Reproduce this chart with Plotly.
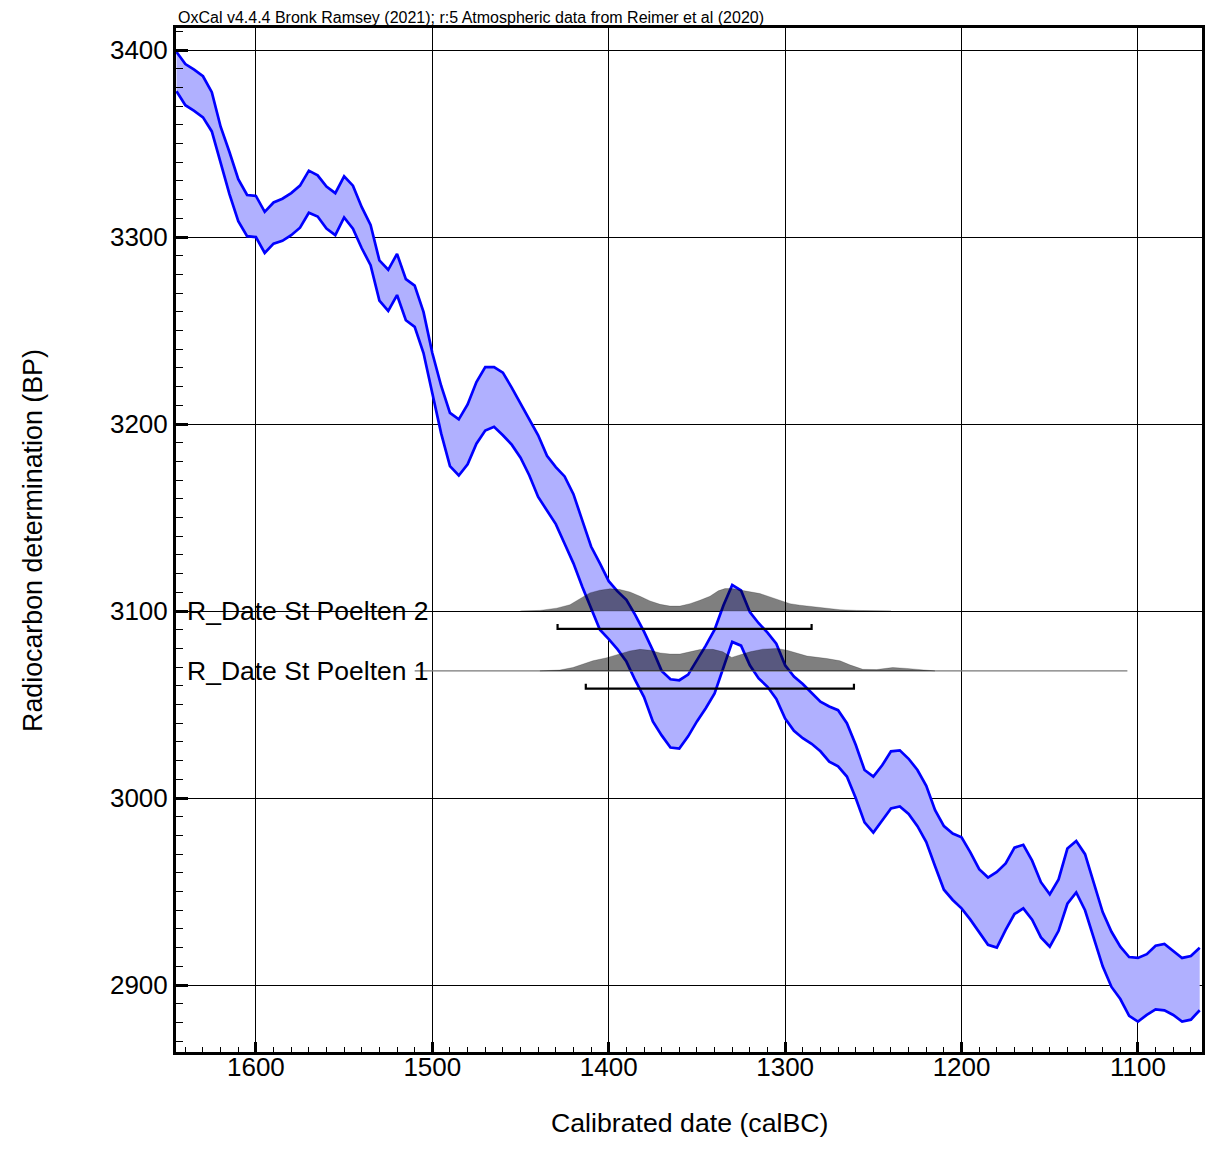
import plotly.graph_objects as go

# Calibration curve (IntCal20, 1-sigma band)
years = [1645, 1640, 1635, 1630, 1625, 1620, 1615, 1610, 1605, 1600,
         1595, 1590, 1585, 1580, 1575, 1570, 1565, 1560, 1555, 1550,
         1545, 1540, 1535, 1530, 1525, 1520, 1515, 1510, 1505, 1500,
         1495, 1490, 1485, 1480, 1475, 1470, 1465, 1460, 1455, 1450,
         1445, 1440, 1435, 1430, 1425, 1420, 1415, 1410, 1405, 1400,
         1395, 1390, 1385, 1380, 1375, 1370, 1365, 1360, 1355, 1350,
         1345, 1340, 1335, 1330, 1325, 1320, 1315, 1310, 1305, 1300,
         1295, 1290, 1285, 1280, 1275, 1270, 1265, 1260, 1255, 1250,
         1245, 1240, 1235, 1230, 1225, 1220, 1215, 1210, 1205, 1200,
         1195, 1190, 1185, 1180, 1175, 1170, 1165, 1160, 1155, 1150,
         1145, 1140, 1135, 1130, 1125, 1120, 1115, 1110, 1105, 1100,
         1095, 1090, 1085, 1080, 1075, 1070, 1065]

upper = [3399, 3392.5, 3389.5, 3386, 3377.5, 3359, 3345.5, 3331, 3322.5, 3322,
         3313.5, 3318.5, 3320.5, 3323.5, 3327.5, 3335.5, 3333, 3327, 3323.5, 3332.5,
         3327.5, 3316, 3306.5, 3287.5, 3282.5, 3291, 3277.5, 3274, 3260, 3238,
         3220.5, 3206, 3202.5, 3210.5, 3222.5, 3230.5, 3230.5, 3227.5, 3219.5, 3211,
         3202, 3194, 3183, 3177, 3172, 3162.5, 3148.5, 3134.5, 3125.5, 3116,
         3110.5, 3106, 3098, 3089, 3079, 3068, 3063.5, 3063, 3066, 3073.5,
         3081.5, 3090, 3103, 3114, 3111, 3099.5, 3093.5, 3088.5, 3082.5, 3071,
         3065, 3061, 3056, 3051.5, 3049, 3047, 3040, 3028.5, 3015, 3011.5,
         3017.5, 3025, 3025.5, 3021, 3015, 3006.5, 2993.5, 2985, 2981, 2979,
         2971, 2962, 2957.5, 2960.5, 2965, 2973.5, 2975, 2966.5, 2955, 2948.5,
         2956.5, 2973, 2977, 2970, 2954.5, 2939, 2928.5, 2920.5, 2915, 2914.5,
         2916.5, 2921, 2922, 2918, 2914.5, 2915.5, 2920]

lower = [3378, 3370.5, 3367.5, 3364, 3356.5, 3339.5, 3323, 3308.5, 3300.5, 3300,
         3291.5, 3296.5, 3298, 3301, 3305, 3313, 3311, 3304.5, 3301, 3310.5,
         3304.5, 3294, 3285, 3266, 3260.5, 3269, 3255.5, 3252, 3238, 3216.5,
         3195, 3177.5, 3172.5, 3178.5, 3189.5, 3196.5, 3198.5, 3194, 3189, 3182,
         3172.5, 3161, 3153.5, 3146.5, 3136, 3125.5, 3113, 3101, 3090, 3085,
         3079.5, 3073, 3063, 3054, 3041, 3033.5, 3027, 3026.5, 3033, 3041,
         3048, 3056, 3070, 3083.5, 3081.5, 3071, 3064, 3059.5, 3053, 3042.5,
         3036, 3032, 3029, 3025, 3019.5, 3017, 3011.5, 3000, 2987, 2981.5,
         2988, 2994.5, 2995.5, 2991.5, 2985, 2976.5, 2963.5, 2951, 2945.5, 2941,
         2935, 2928, 2921.5, 2920, 2929.5, 2938, 2941, 2935, 2925.5, 2920.5,
         2929, 2943.5, 2949.5, 2940, 2925, 2910, 2899, 2892.5, 2883.5, 2880.5,
         2884, 2887, 2886.5, 2884, 2880.5, 2881.5, 2886.5]

# Calibrated distributions (relative probability)
d2_name = "R_Date St Poelten 2"
d2_bp = 3100
d2_x = [1450, 1439, 1429.5, 1422, 1416.3, 1410.7, 1405, 1399.3, 1393.7, 1388,
        1382.3, 1376.6, 1370.9, 1365.3, 1359.6, 1353.9, 1348.3, 1342.6, 1337.9, 1334.1,
        1330.3, 1325.6, 1319.9, 1314.3, 1308.6, 1302.9, 1297.3, 1291.6, 1285.9, 1280.2,
        1274.6, 1268.9, 1259.5, 1250, 1240]
d2_p = [0, 0.03, 0.13, 0.28, 0.55, 0.81, 0.93, 0.99, 0.96, 0.85,
        0.66, 0.45, 0.30, 0.22, 0.22, 0.33, 0.48, 0.66, 0.90, 1.00,
        1.00, 0.93, 0.85, 0.78, 0.63, 0.48, 0.33, 0.26, 0.21, 0.15,
        0.10, 0.06, 0.03, 0.01, 0]
d2_range = [1429, 1285]
d2_base = None   # coincides with the 3100 grid line

d1_name = "R_Date St Poelten 1"
d1_bp = 3068
d1_x = [1439, 1427.7, 1420.3, 1414.6, 1409, 1401, 1393.7, 1388, 1382.3, 1376.6,
        1370.9, 1365.3, 1359.6, 1353.9, 1348.3, 1340.9, 1335.3, 1330.3, 1325.6, 1319.9,
        1312.6, 1304.6, 1299, 1295.6, 1287.6, 1276.3, 1268.9, 1263.4, 1256, 1248.1,
        1239, 1231.1, 1222.1, 1215.1]
d1_p = [0, 0.04, 0.15, 0.30, 0.45, 0.59, 0.77, 0.89, 0.96, 0.92,
        0.80, 0.75, 0.75, 0.85, 0.95, 0.96, 0.85, 0.60, 0.70, 0.85,
        0.97, 1.00, 0.92, 0.85, 0.66, 0.55, 0.45, 0.27, 0.07, 0.06,
        0.15, 0.11, 0.03, 0]
d1_range = [1413, 1261]
d1_base = [1510, 1106]

title_text = "OxCal v4.4.4 Bronk Ramsey (2021); r:5 Atmospheric data from Reimer et al (2020)"
x_title = "Calibrated date (calBC)"
y_title = "Radiocarbon determination (BP)"

FONT = "Arial, 'Liberation Sans', sans-serif"
PEAK_BP = 12.0     # drawn height of a distribution peak (BP units)
BAR_OFF = 9.5      # range bar offset below baseline (BP units)
TICK_BP = 2.6

fig = go.Figure()

# band fill
fig.add_trace(go.Scatter(
    x=years + years[::-1], y=upper + lower[::-1],
    fill="toself", fillcolor="rgb(176,176,255)",
    line=dict(width=0), mode="lines", hoverinfo="skip", showlegend=False))
for series in (upper, lower):
    fig.add_trace(go.Scatter(x=years, y=series, mode="lines",
                             line=dict(color="rgb(0,0,255)", width=2.7),
                             showlegend=False))

for name, bp, dx, dp, rng, base in ((d2_name, d2_bp, d2_x, d2_p, d2_range, d2_base),
                                   (d1_name, d1_bp, d1_x, d1_p, d1_range, d1_base)):
    if base is not None:
        fig.add_trace(go.Scatter(x=base, y=[bp, bp], mode="lines",
                                 line=dict(color="rgb(120,120,120)", width=1.3),
                                 showlegend=False))
    top = [bp + p * PEAK_BP for p in dp]
    fig.add_trace(go.Scatter(
        x=dx + dx[::-1], y=top + [bp] * len(dx),
        fill="toself", fillcolor="rgba(0,0,0,0.5)",
        line=dict(color="rgba(0,0,0,0.35)", width=0.6),
        mode="lines", showlegend=False))
    yb = bp - BAR_OFF
    fig.add_trace(go.Scatter(
        x=[rng[0], rng[0], rng[1], rng[1]],
        y=[yb + TICK_BP, yb, yb, yb + TICK_BP],
        mode="lines", line=dict(color="black", width=2.2), showlegend=False))
    fig.add_annotation(x=1640, y=bp, xref="x", yref="y", text=name,
                       showarrow=False, xanchor="left", yanchor="middle",
                       font=dict(family=FONT, size=26.5, color="black"))

fig.add_annotation(x=0, y=1, xref="paper", yref="paper", text=title_text,
                   showarrow=False, xanchor="left", yanchor="bottom", yshift=0,
                   font=dict(family=FONT, size=16, color="black"))
fig.add_annotation(x=0.5, y=-0.0693, xref="paper", yref="paper", text=x_title,
                   showarrow=False, xanchor="center", yanchor="middle",
                   font=dict(family=FONT, size=26.7, color="black"))
fig.add_annotation(x=-0.1394, y=0.5, xref="paper", yref="paper", text=y_title,
                   showarrow=False, xanchor="center", yanchor="middle", textangle=-90,
                   font=dict(family=FONT, size=26.8, color="black"))

fig.update_layout(
    width=1219, height=1149,
    margin=dict(l=176, r=17, t=28, b=97),
    plot_bgcolor="white", paper_bgcolor="white",
    font=dict(family=FONT, color="black"),
    showlegend=False,
)
fig.update_xaxes(
    range=[1645.3, 1063.7], dtick=100, tick0=1000,
    showgrid=True, gridcolor="black", gridwidth=1,
    showline=True, linecolor="black", linewidth=3, mirror=True,
    ticks="inside", ticklen=10, tickwidth=2.5, tickcolor="black",
    minor=dict(ticks="inside", ticklen=5, dtick=10, tickcolor="black", tickwidth=1, showgrid=False),
    tickfont=dict(family=FONT, size=26, color="black"),
    ticklabelstandoff=-10,
    zeroline=False,
)
fig.update_yaxes(
    range=[2864.2, 3411.8], dtick=100, tick0=0,
    showgrid=True, gridcolor="black", gridwidth=1,
    showline=True, linecolor="black", linewidth=3, mirror=True,
    ticks="inside", ticklen=12, tickwidth=2.5, tickcolor="black",
    minor=dict(ticks="inside", ticklen=7, dtick=10, tickcolor="black", tickwidth=1, showgrid=False),
    tickfont=dict(family=FONT, size=26, color="black"),
    zeroline=False,
)

fig.write_html("out.html")
